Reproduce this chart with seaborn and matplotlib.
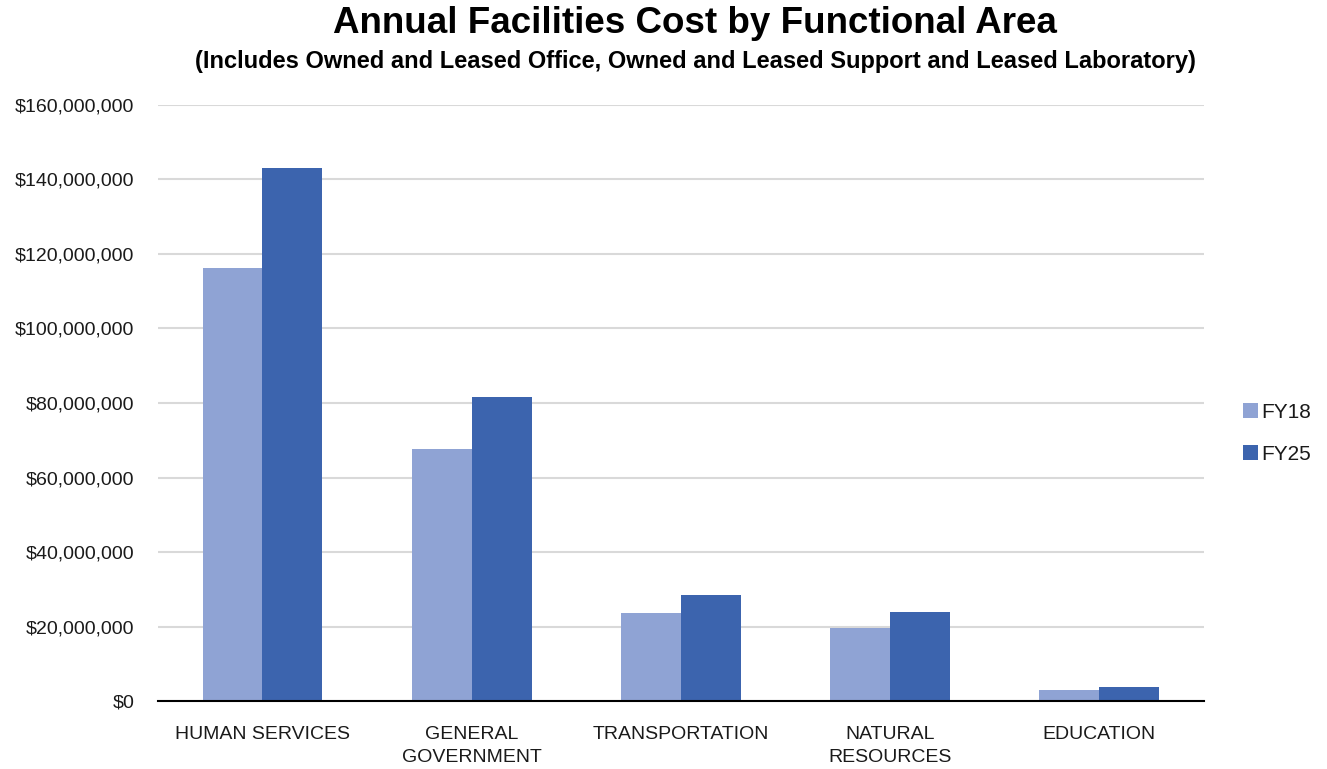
import pandas as pd
import seaborn as sns
from matplotlib import pyplot as plt
from matplotlib.ticker import FuncFormatter

areas = ['HUMAN SERVICES', 'GENERAL\nGOVERNMENT', 'TRANSPORTATION', 'NATURAL\nRESOURCES', 'EDUCATION']
fy18 = [116_300_000, 67_600_000, 23_700_000, 19_700_000, 3_000_000]
fy25 = [143_000_000, 81_700_000, 28_500_000, 23_900_000, 3_700_000]
years = ['FY18', 'FY25']
colors = ['#8FA3D4', '#3C64AE']

df = pd.DataFrame({'Area': areas * 2,
                   'Year': ['FY18'] * len(areas) + ['FY25'] * len(areas),
                   'Cost': fy18 + fy25})

sns.set_style('white')
plt.rcParams['font.family'] = ['Liberation Sans Narrow', 'Liberation Sans', 'DejaVu Sans']

fig = plt.figure(figsize=(13.27, 7.69), dpi=100)
ax = fig.add_axes([0.119, 0.0884, 0.788, 0.7751])

sns.barplot(data=df, x='Area', y='Cost', hue='Year', hue_order=years,
            palette=colors, width=0.573, gap=0, saturation=1,
            linewidth=0, edgecolor='none', ax=ax)

ax.set_ylim(0, 160_000_000)
ax.set_yticks(range(0, 160_000_001, 20_000_000))
ax.yaxis.set_major_formatter(FuncFormatter(lambda v, p: f'${v:,.0f}'))
ax.grid(axis='y', color='#D9D9D9', linewidth=1.5)
ax.set_axisbelow(True)
ax.set_xlabel('')
ax.set_ylabel('')
for s in ['top', 'right', 'left']:
    ax.spines[s].set_visible(False)
ax.spines['bottom'].set_color('black')
ax.spines['bottom'].set_linewidth(1.5)
ax.tick_params(axis='both', length=0, labelsize=14, colors='#1a1a1a')
ax.tick_params(axis='x', pad=18)
ax.tick_params(axis='y', pad=17)
for lbl in ax.get_xticklabels():
    lbl.set_linespacing(1.45)
    lbl.set_verticalalignment('top')

ax.legend(loc='center left', bbox_to_anchor=(1.02, 0.449), frameon=False,
          fontsize=15, handlelength=0.7, handleheight=0.7, handletextpad=0.15,
          labelspacing=1.1, labelcolor='#1a1a1a')

fig.text(0.524, 0.969, 'Annual Facilities Cost by Functional Area', ha='center', va='center',
         fontsize=26.5, fontweight='bold', family='Liberation Sans', color='black')
fig.text(0.524, 0.92, '(Includes Owned and Leased Office, Owned and Leased Support and Leased Laboratory)',
         ha='center', va='center', fontsize=17, fontweight='bold', family='Liberation Sans', color='black')

fig.savefig('out.png', dpi=100)
